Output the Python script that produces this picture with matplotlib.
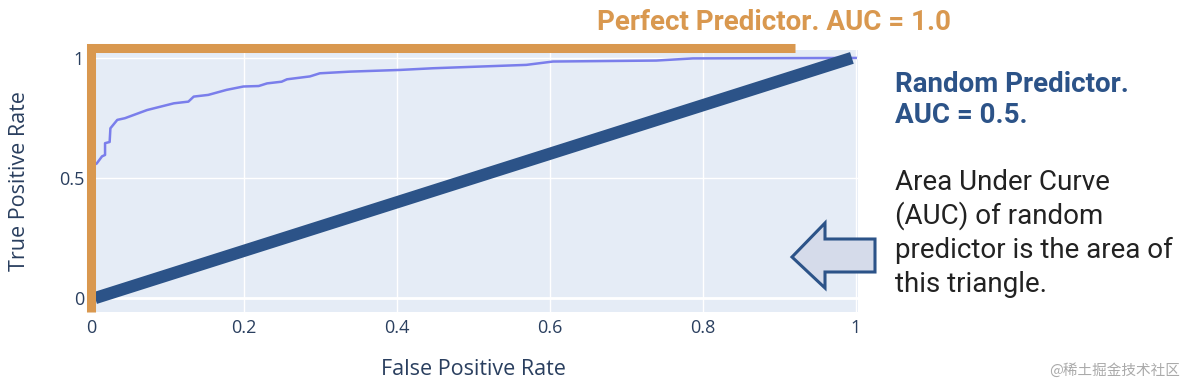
import matplotlib

matplotlib.use("Agg")
import matplotlib.pyplot as plt
from matplotlib.patches import Polygon

# ROC curve (false positive rate, true positive rate)
fpr = [0.0, 0.007, 0.014, 0.018, 0.018, 0.024, 0.025, 0.034, 0.044, 0.073, 0.108,
       0.127, 0.134, 0.153, 0.177, 0.199, 0.219, 0.230, 0.249, 0.256, 0.286, 0.299,
       0.339, 0.404, 0.447, 0.569, 0.604, 0.739, 0.787, 1.0]
tpr = [0.55, 0.56, 0.59, 0.596, 0.645, 0.65, 0.707, 0.742, 0.749, 0.783, 0.811,
       0.818, 0.839, 0.846, 0.867, 0.881, 0.883, 0.894, 0.901, 0.911, 0.923, 0.936,
       0.943, 0.95, 0.957, 0.971, 0.985, 0.989, 0.998, 1.0]
random_x = [0.005, 0.995]
random_y = [0.0, 1.0]
perfect_x = [0.0, 0.0, 0.92]
perfect_y = [-0.058, 1.04, 1.04]

x_ticks = [0, 0.2, 0.4, 0.6, 0.8, 1]
x_labels = ["0", "0.2", "0.4", "0.6", "0.8", "1"]
y_ticks = [0, 0.5, 1]
y_labels = ["0", "0.5", "1"]

ORANGE = "#D9984F"
NAVY = "#2C5388"
ROC = "#7A7EEB"
AXIS = "#2a3f5f"
W, H = 1186, 388

fig = plt.figure(figsize=(W / 100, H / 100), dpi=100)
ax = fig.add_axes([89 / W, 1 - 312 / H, 769 / W, 262 / H])
ax.set_facecolor("#E5ECF6")
ax.set_xlim(-0.003, 1.003)
ax.set_ylim(-0.058, 1.033)
for s in ax.spines.values():
    s.set_visible(False)
ax.set_xticks(x_ticks)
ax.set_xticklabels(x_labels)
ax.set_yticks(y_ticks)
ax.set_yticklabels(y_labels)
ax.tick_params(axis="x", length=0, colors=AXIS, labelsize=13, pad=5)
ax.tick_params(axis="y", length=0, colors=AXIS, labelsize=13, pad=3.5)
for lab in ax.get_xticklabels() + ax.get_yticklabels():
    lab.set_fontfamily("Open Sans")
ax.grid(color="white", lw=1.0)
ax.axhline(0, color="white", lw=2, zorder=1)
ax.set_axisbelow(True)
ax.set_xlabel("False Positive Rate", fontsize=15.5, color=AXIS, family="Open Sans", labelpad=16)
ax.set_ylabel("True Positive Rate", fontsize=15.5, color=AXIS, family="Open Sans", labelpad=21)

ax.plot(fpr, tpr, color=ROC, lw=1.8, zorder=3)
ax.plot(random_x, random_y, color=NAVY, lw=8.8, solid_capstyle="butt", zorder=4)
ax.plot(perfect_x, perfect_y, color=ORANGE, lw=6.5, solid_capstyle="butt",
        solid_joinstyle="miter", clip_on=False, zorder=5)


def px(x, y):
    return x / W, 1 - y / H


fig.text(*px(597, 23), "Perfect Predictor. AUC = 1.0", color=ORANGE, fontsize=20,
         fontweight="bold", family="Roboto", va="center", ha="left")
fig.text(*px(895, 92), "Random Predictor.", color=NAVY, fontsize=20,
         fontweight="bold", family="Roboto", va="baseline")
fig.text(*px(895, 123), "AUC = 0.5.", color=NAVY, fontsize=20,
         fontweight="bold", family="Roboto", va="baseline")
body = ["Area Under Curve", "(AUC) of random", "predictor is the area of", "this triangle."]
for i, line in enumerate(body):
    fig.text(*px(895, 190 + i * 34), line, color="#222222", fontsize=20,
             fontweight="normal", family="Roboto", va="baseline")

# block arrow pointing left (figure pixels)
arrow = [(792, 257), (825, 223), (825, 239), (875, 239), (875, 272), (825, 272), (825, 288)]
fig.patches.append(Polygon([px(x, y) for x, y in arrow], closed=True,
                           transform=fig.transFigure, facecolor="#D5DBEA",
                           edgecolor=NAVY, lw=2.2, joinstyle="miter"))

fig.text(*px(1180, 370), "@稀土掘金技术社区", color="#AAAAAA", fontsize=10.5,
         family=["Noto Sans CJK SC", "DejaVu Sans"], ha="right", va="center")

fig.savefig("out.png", dpi=100)
